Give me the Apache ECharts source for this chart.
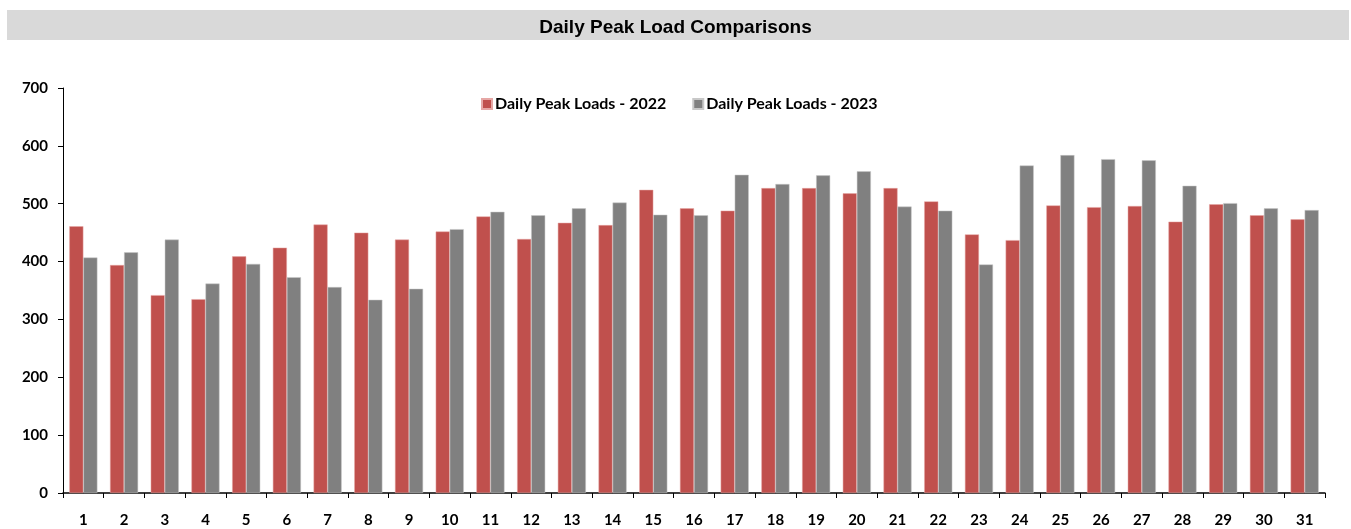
<!DOCTYPE html>
<html><head><meta charset="utf-8">
<script src="https://cdn.jsdelivr.net/npm/echarts@6/dist/echarts.min.js"></script>
<style>html,body{margin:0;padding:0;background:#fff}#c{width:1351px;height:529px}</style>
</head><body><div id="c"></div>
<script>
const days = ['1','2','3','4','5','6','7','8','9','10','11','12','13','14','15','16','17','18','19','20','21','22','23','24','25','26','27','28','29','30','31'];
const loads2022 = [461,394,342,335,409,424,464,450,438,452,478,439,467,463,524,492,488,527,527,518,527,504,447,437,497,494,496,469,499,480,473];
const loads2023 = [407,416,438,362,396,373,356,334,353,456,486,480,492,502,481,480,550,534,549,556,495,488,395,566,584,577,575,531,501,492,489];
const yTicks = [0,100,200,300,400,500,600,700];

const chart = echarts.init(document.getElementById('c'), null, {renderer:'canvas'});
const lblFont = 'Lato, "Open Sans", sans-serif';
chart.setOption({
  animation:false,
  backgroundColor:'#fff',
  graphic:[{type:'rect', left:7, top:10, shape:{width:1342, height:30}, style:{fill:'#d9d9d9'}, silent:true}],
  title:{text:'Daily Peak Load Comparisons', left:'center', top:13,
    textStyle:{fontFamily:'"Liberation Sans Narrow", "Liberation Sans", Arial, sans-serif', fontWeight:'bold', fontSize:19, color:'#000'}},
  legend:{top:91, left:476, itemWidth:10, itemHeight:10, itemGap:26, icon:'rect',
    textStyle:{fontFamily:lblFont, fontWeight:'bold', fontSize:16, color:'#000', padding:[0,0,0,-2]},
    data:['Daily Peak Loads - 2022','Daily Peak Loads - 2023']},
  grid:{left:63, right:26, top:88, bottom:36, containLabel:false},
  xAxis:{type:'category', data:days,
    axisLine:{lineStyle:{color:'#000', width:1.5}},
    axisTick:{show:true, alignWithLabel:false, length:5, lineStyle:{color:'#000'}},
    axisLabel:{fontFamily:lblFont, fontWeight:'bold', fontSize:15, color:'#000', margin:20}},
  yAxis:{type:'value', min:0, max:700, interval:100,
    splitLine:{show:false},
    axisLine:{show:true, lineStyle:{color:'#000', width:1}},
    axisTick:{show:true, length:5, lineStyle:{color:'#000'}},
    axisLabel:{fontFamily:lblFont, fontWeight:'bold', fontSize:15, color:'#000', margin:15,
      formatter:v=>yTicks.includes(v)?String(v):''}},
  series:[
    {name:'Daily Peak Loads - 2022', type:'bar', data:loads2022, barGap:'0%', barCategoryGap:'31%',
      itemStyle:{color:'#c0504d', borderColor:'#e6a7a5', borderWidth:0.5}},
    {name:'Daily Peak Loads - 2023', type:'bar', data:loads2023, barGap:'0%', barCategoryGap:'31%',
      itemStyle:{color:'#808080', borderColor:'#c8c8c8', borderWidth:0.5}}
  ]
});
</script></body></html>
